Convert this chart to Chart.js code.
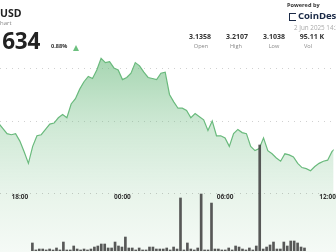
<!DOCTYPE html>
<html>
<head>
<meta charset="utf-8">
<script src="https://cdn.jsdelivr.net/npm/chart.js@4.4.1/dist/chart.umd.min.js"></script>
<style>
  html, body { margin: 0; padding: 0; }
  body {
    width: 336px; height: 252px; overflow: hidden; position: relative;
    background: #fff; font-family: "Open Sans", sans-serif; color: #222;
  }
  .abs { position: absolute; white-space: nowrap; }
  #below { left: 0; top: 193px; width: 336px; height: 59px;
    background: linear-gradient(#e8f4ea, #f5faf6); }
  #priceBox { left: 0; top: 0; width: 336px; height: 252px; }
  #volBox { left: 0; top: 0; width: 336px; height: 251px; pointer-events: none; }
  .stat { font-weight: 700; font-size: 7px; color: #333; transform: translateX(-50%); }
  .statLbl { font-size: 5.6px; color: #888; transform: translateX(-50%); }
</style>
</head>
<body>
<div class="abs" id="below"></div>
<div class="abs" id="priceBox"><canvas id="priceChart" width="336" height="252"></canvas></div>
<div class="abs" id="volBox"><canvas id="volChart" width="336" height="251"></canvas></div>

<div class="abs" style="left:0;top:6px;font-weight:700;font-size:10.5px;">USD</div>
<div class="abs" style="left:0;top:19px;font-size:6px;color:#888;">hart</div>
<div class="abs" style="left:-29px;top:25px;font-weight:700;font-size:22.5px;letter-spacing:-0.3px;">3.1634</div>
<div class="abs" style="left:51px;top:42px;font-weight:700;font-size:5.6px;color:#333;">0.88%</div>
<div class="abs" style="left:73px;top:45px;width:0;height:0;border-left:3.5px solid transparent;border-right:3.5px solid transparent;border-bottom:6px solid #6cc07f;"></div>

<div class="abs" style="left:287px;top:1px;font-weight:700;font-size:5.6px;color:#333;">Powered by</div>
<div class="abs" style="left:289px;top:13px;width:7px;height:8px;border:1.3px solid #1b2a47;border-right:none;box-sizing:border-box;"></div>
<div class="abs" style="left:298px;top:9px;font-weight:700;font-size:9.6px;color:#1b2a47;letter-spacing:-0.1px;">CoinDesk</div>
<div class="abs" style="left:294px;top:23px;font-size:6.3px;color:#aaa;">2 Jun 2025 14:25</div>

<div class="abs stat" style="left:200px;top:32px;">3.1358</div>
<div class="abs statLbl" style="left:201px;top:42px;">Open</div>
<div class="abs stat" style="left:237px;top:32px;">3.2107</div>
<div class="abs statLbl" style="left:236px;top:42px;">High</div>
<div class="abs stat" style="left:274px;top:32px;">3.1038</div>
<div class="abs statLbl" style="left:274px;top:42px;">Low</div>
<div class="abs stat" style="left:312px;top:32px;">95.11 K</div>
<div class="abs statLbl" style="left:308px;top:42px;">Vol</div>

<script>
// 15-minute samples, first one at 16:45 on 1 Jun (minutes counted from 1 Jun 00:00)
const startMinute = 1005;
const stepMinutes = 15;

const prices = [
  3.149, 3.144, 3.139, 3.138, 3.139, 3.132, 3.122, 3.111, 3.127, 3.137,
  3.138, 3.143, 3.148, 3.149, 3.154, 3.157, 3.154, 3.167, 3.172, 3.181,
  3.188, 3.193, 3.191, 3.199, 3.210, 3.206, 3.207, 3.201, 3.199, 3.190,
  3.192, 3.196, 3.206, 3.203, 3.197, 3.192, 3.191, 3.190, 3.196, 3.197,
  3.176, 3.169, 3.163, 3.163, 3.161, 3.154, 3.158, 3.155, 3.152, 3.142,
  3.151, 3.137, 3.137, 3.135, 3.127, 3.139, 3.143, 3.140, 3.139, 3.127,
  3.123, 3.125, 3.135, 3.123, 3.120, 3.116, 3.113, 3.120, 3.119, 3.117,
  3.111, 3.107, 3.106, 3.104, 3.108, 3.111, 3.113, 3.114, 3.122, 3.126
];

// volume per bar, thousands
const volumes = [
  1.17, 0.15, 0.29, 0.29, 0.15, 0.29, 0.15, 0.44, 0.15, 1.31,
  0.15, 0.15, 0.73, 0.29, 0.15, 0.29, 0.15, 0.29, 0.58, 0.73,
  1.02, 1.02, 0.44, 0.44, 1.31, 0.73, 0.58, 2.04, 0.44, 0.44,
  0.15, 0.44, 0.15, 0.15, 0.58, 0.58, 0.29, 0.29, 0.29, 0.44,
  0.15, 0.58, 0.29, 7.74, 0.15, 1.17, 0.29, 0.15, 0.44, 8.32,
  0.15, 0.15, 7.00, 0.29, 0.29, 0.15, 0.15, 0.44, 0.15, 0.73,
  0.58, 0.29, 0.15, 0.44, 0.15, 0.73, 15.48, 0.29, 0.58, 0.88,
  1.31, 0.29, 0.29, 1.31, 0.73, 1.46, 1.46, 1.17, 0.58, 0.44
];

const timeTicks = [1080, 1440, 1800, 2160]; // 18:00, 00:00, 06:00, 12:00
const priceGrid = [3.15, 3.20];

const xMin = 1010.3;
const xMax = 2180.9;

const times = prices.map((_, i) => startMinute + i * stepMinutes);

function fmtTime(m) {
  const h = Math.floor(m / 60) % 24;
  const mm = m % 60;
  return String(h).padStart(2, "0") + ":" + String(mm).padStart(2, "0");
}

function renderPriceChart() {
  const ctx = document.getElementById("priceChart").getContext("2d");
  new Chart(ctx, {
    type: "line",
    data: {
      datasets: [
        {
          data: times.map((t, i) => ({ x: t, y: prices[i] })),
          borderColor: "#6aba7d",
          borderWidth: 1.2,
          pointRadius: 0,
          tension: 0,
          fill: "start",
          backgroundColor: (c) => {
            const area = c.chart.chartArea;
            if (!area) return "rgba(104,185,123,0.3)";
            const g = c.chart.ctx.createLinearGradient(0, 55, 0, area.bottom);
            g.addColorStop(0, "rgba(104,185,123,0.6)");
            g.addColorStop(0.5, "rgba(104,185,123,0.32)");
            g.addColorStop(1, "rgba(104,185,123,0.15)");
            return g;
          },
        },
      ],
    },
    options: {
      responsive: false,
      animation: false,
      layout: { padding: 0, autoPadding: false },
      plugins: { legend: { display: false }, tooltip: { enabled: false } },
      scales: {
        x: {
          type: "linear",
          min: xMin,
          max: xMax,
          afterBuildTicks: (s) => { s.ticks = timeTicks.map((v) => ({ value: v })); },
          afterFit: (s) => { s.height = 252 - 193; },
          ticks: {
            autoSkip: false,
            maxRotation: 0,
            padding: 0,
            color: "#333",
            font: { family: "Open Sans", size: 6.5, weight: "bold" },
            callback: (v) => fmtTime(v),
          },
          grid: { display: false, drawTicks: false },
          border: { display: false },
        },
        y: {
          min: 3.08302,
          max: 3.26509,
          // dotted lines at the two price levels and along the time axis
          afterBuildTicks: (s) => { s.ticks = [s.min].concat(priceGrid).map((v) => ({ value: v })); },
          afterFit: (s) => { s.width = 0; },
          ticks: { display: false },
          grid: { drawTicks: false, color: "rgba(0,0,0,0.18)", lineWidth: 1 },
          border: { display: false, dash: [1, 5] },
        },
      },
    },
  });
}

function renderVolumeChart() {
  const ctx = document.getElementById("volChart").getContext("2d");
  new Chart(ctx, {
    type: "bar",
    data: {
      datasets: [
        {
          data: times.map((t, i) => ({ x: t, y: volumes[i] })),
          backgroundColor: "rgba(70,70,70,0.9)",
          barThickness: 2,
        },
      ],
    },
    options: {
      responsive: false,
      animation: false,
      layout: { padding: 0, autoPadding: false },
      plugins: { legend: { display: false }, tooltip: { enabled: false } },
      scales: {
        x: { type: "linear", min: xMin, max: xMax, display: false },
        y: { min: 0, max: 36.65, display: false },
      },
    },
  });
}

renderPriceChart();
renderVolumeChart();
</script>
</body>
</html>
